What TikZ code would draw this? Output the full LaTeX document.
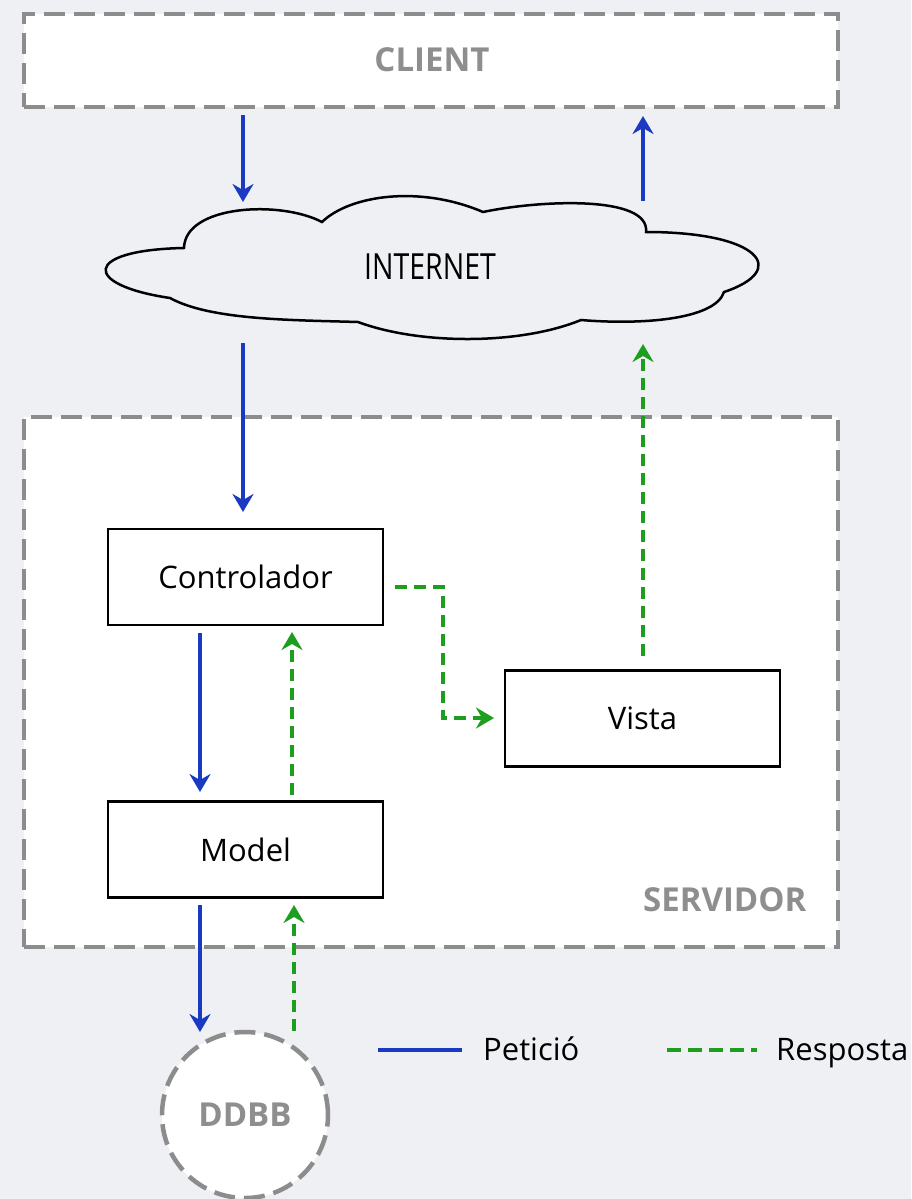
\documentclass[tikz,border=0pt]{standalone}
\usepackage{fontspec}
\setmainfont{Open Sans}
\usetikzlibrary{arrows.meta}
\definecolor{bg}{HTML}{EEF0F3}
\definecolor{grayline}{HTML}{8C8C8C}
\definecolor{graytext}{HTML}{8E8E8E}
\definecolor{reqblue}{HTML}{1A3AC2}
\definecolor{resgreen}{HTML}{1E9E1E}
\tikzset{
  zone/.style={draw=grayline, line width=4.5pt, dash pattern=on 21pt off 9pt, fill=white},
  zonetext/.style={text=graytext, font=\fontsize{33}{36}\selectfont\bfseries},
  mvcbox/.style={draw=black, line width=2.3pt, fill=white, minimum width=275pt, minimum height=96pt, inner sep=0pt, font=\fontsize{31}{34}\selectfont},
  tipx/.style={-{Stealth[length=18pt,width=21pt,inset=6pt]}},
  req/.style={tipx, draw=reqblue, line width=4.5pt},
  res/.style={tipx, draw=resgreen, line width=4.5pt, dash pattern=on 12pt off 7pt},
  lbl/.style={font=\fontsize{31}{34}\selectfont, anchor=base west, inner sep=0pt}
}
\begin{document}
\begin{tikzpicture}[x=1pt,y=-1pt]
\fill[bg] (0,0) rectangle (911,1199);
\useasboundingbox (0,0) rectangle (911,1199);

% CLIENT
\node[zone, minimum width=814pt, minimum height=93pt, inner sep=0pt] (client) at (431,60.5) {};
\node[zonetext] (clientlbl) at (432,60) {CLIENT};

% SERVIDOR
\node[zone, minimum width=814pt, minimum height=530pt, inner sep=0pt] (servidor) at (431,682) {};
\node[zonetext, anchor=east] (servlbl) at (810,900) {SERVIDOR};

% INTERNET cloud
\draw[line width=2.5pt, fill=bg]
  (170,298) .. controls (82,285) and (82,250) .. (184,248)
  .. controls (185,205) and (280,200) .. (322,222)
  .. controls (350,195) and (420,185) .. (483,212)
  .. controls (540,200) and (650,195) .. (646,232)
  .. controls (760,232) and (790,270) .. (724,292)
  .. controls (715,320) and (640,325) .. (581,320)
  .. controls (520,345) and (420,345) .. (358,322)
  .. controls (290,320) and (210,320) .. (170,298) -- cycle;
\node[font=\fontsize{30}{34}\selectfont, yscale=1.2, xscale=0.95] (internet) at (430,267) {INTERNET};

% MVC boxes
\node[mvcbox] (ctrl) at (245.5,577) {Controlador};
\node[mvcbox] (model) at (245.5,849.5) {Model};
\node[mvcbox] (vista) at (642.5,718.5) {Vista};

% DDBB
\node[circle, draw=grayline, line width=4.5pt, dash pattern=on 21pt off 9pt, fill=white, minimum size=166pt, inner sep=0pt, text=graytext, font=\fontsize{33}{36}\selectfont\bfseries] (ddbb) at (245,1115) {DDBB};

% connector end points
\coordinate (c1) at (243,115);
\coordinate (i1) at (243,202);
\coordinate (i2) at (643,201);
\coordinate (c2) at (643,116);
\coordinate (i3) at (243,343);
\coordinate (k1) at (243,512);
\coordinate (v1) at (643,656);
\coordinate (i4) at (643,344);
\coordinate (k2) at (395,587);
\coordinate (kb1) at (443,587);
\coordinate (kb2) at (443,718);
\coordinate (v2) at (494,718);
\coordinate (k3) at (200,633);
\coordinate (m1) at (200,792);
\coordinate (m2) at (292,795);
\coordinate (k4) at (292,632);
\coordinate (m3) at (200,905);
\coordinate (d1) at (200,1032);
\coordinate (d2) at (294,1031);
\coordinate (m4) at (294,905);

\draw[req] (c1) -- (i1);
\draw[req] (i2) -- (c2);
\draw[req] (i3) -- (k1);
\draw[res] (v1) -- (i4);
\draw[res] (k2) -- (kb1) -- (kb2) -- (v2);
\draw[req] (k3) -- (m1);
\draw[res] (m2) -- (k4);
\draw[req] (m3) -- (d1);
\draw[res] (d2) -- (m4);

% legend
\coordinate (la1) at (378,1050);
\coordinate (la2) at (462,1050);
\coordinate (lb1) at (667,1050);
\coordinate (lb2) at (757,1050);
\draw[draw=reqblue, line width=4.5pt] (la1) -- (la2);
\draw[draw=resgreen, line width=4.5pt, dash pattern=on 14pt off 7pt] (lb1) -- (lb2);
\node[lbl] (pet) at (483,1060) {Petició};
\node[lbl] (resp) at (776,1060) {Resposta};
\end{tikzpicture}
\end{document}
